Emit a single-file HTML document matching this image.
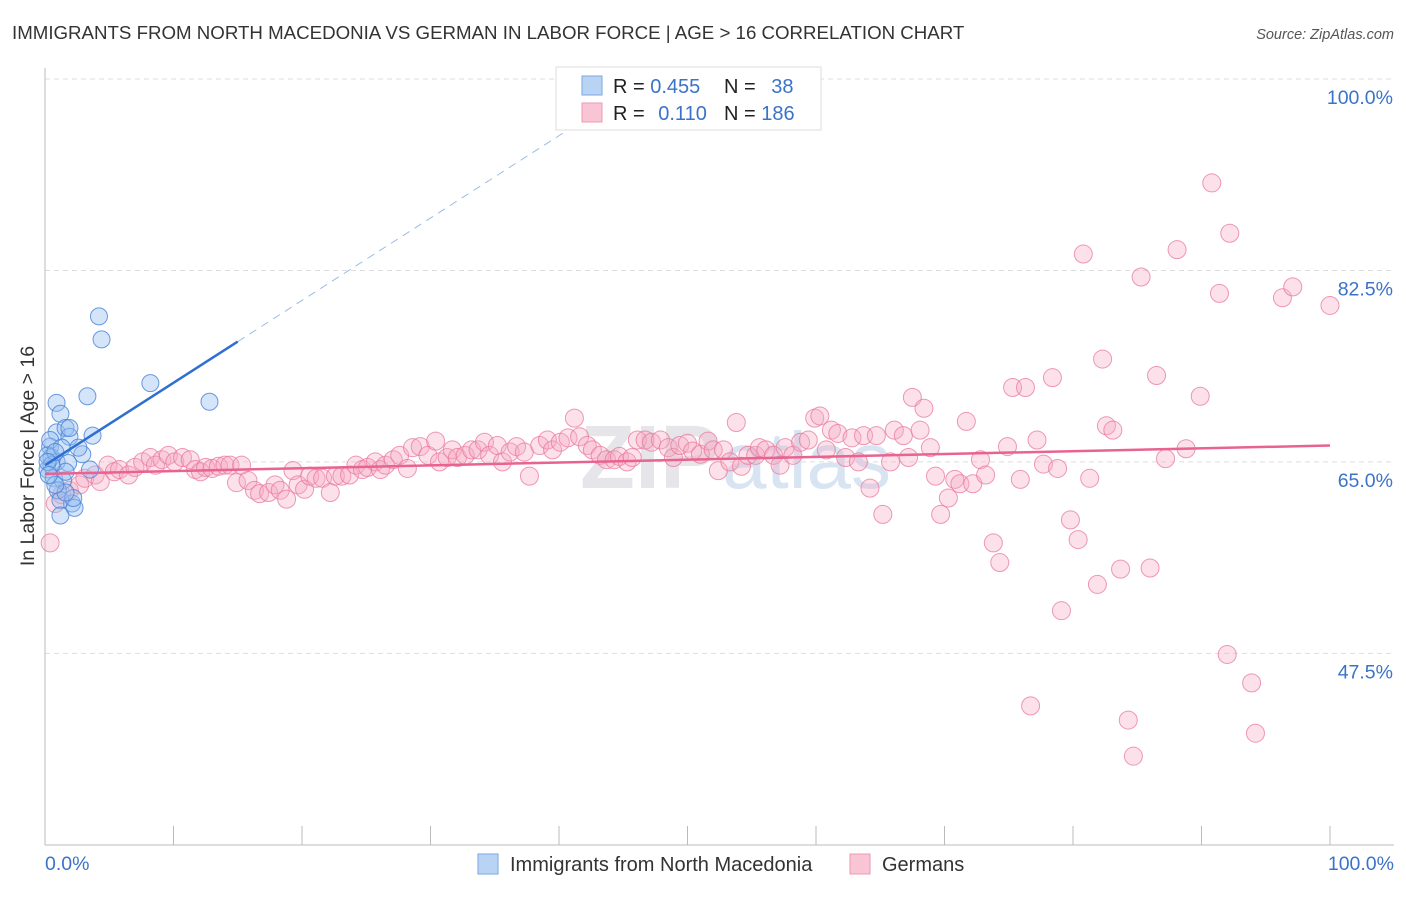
<!DOCTYPE html>
<html><head><meta charset="utf-8"><style>
body{margin:0;background:#fff;font-family:"Liberation Sans",sans-serif}
svg text{font-family:"Liberation Sans",sans-serif}
</style></head><body>
<svg id="c" width="1406" height="892" xmlns="http://www.w3.org/2000/svg">
<text x="12" y="39" font-size="18.7" fill="#333">IMMIGRANTS FROM NORTH MACEDONIA VS GERMAN IN LABOR FORCE | AGE &gt; 16 CORRELATION CHART</text>
<text x="1394" y="39" font-size="14.5" fill="#555" font-style="italic" text-anchor="end">Source: ZipAtlas.com</text>
<text x="720" y="488" font-size="90" font-weight="bold" fill="#e6e6ea" text-anchor="end">ZIP</text>
<text x="722" y="488" font-size="80" fill="#d8e4f2">atlas</text>
<g id="grid"></g><g id="axes"></g><g id="pink"></g><g id="blue"></g><g id="trend"></g>
<text transform="translate(34,456) rotate(-90)" font-size="19.5" fill="#333" text-anchor="middle">In Labor Force | Age &gt; 16</text>
<g>
<rect x="556" y="67" width="265" height="63" fill="#fff" stroke="#ddd"/>
<rect x="582" y="76" width="20" height="19" fill="#b9d3f5" stroke="#7aa7e0"/>
<rect x="582" y="103" width="20" height="19" fill="#f9c4d4" stroke="#ee9ab4"/>
<text x="613" y="93" font-size="20" fill="#222">R = <tspan fill="#3b73c9">0.455</tspan></text>
<text x="724" y="93" font-size="20" fill="#222">N = <tspan fill="#3b73c9" dx="10">38</tspan></text>
<text x="613" y="120" font-size="20" fill="#222">R = <tspan fill="#3b73c9" dx="8">0.110</tspan></text>
<text x="724" y="120" font-size="20" fill="#222">N = <tspan fill="#3b73c9">186</tspan></text>
</g>
<g>
<rect x="478" y="854" width="20" height="20" fill="#b9d3f5" stroke="#7aa7e0"/>
<text x="510" y="871" font-size="20" fill="#333">Immigrants from North Macedonia</text>
<rect x="850" y="854" width="20" height="20" fill="#f9c4d4" stroke="#ee9ab4"/>
<text x="882" y="871" font-size="20" fill="#333">Germans</text>
</g>
<text x="45" y="870" font-size="19.5" fill="#3b73c9">0.0%</text>
<text x="1394" y="870" font-size="19.5" fill="#3b73c9" text-anchor="end">100.0%</text>
</svg>
<script>
const yTicks=[100,82.5,65,47.5];
const yTickLabels=["100.0%","82.5%","65.0%","47.5%"];
const blueX=[4.2,4.4,8.2,12.8,3.3,0.9,1.2,3.7,2.9,0.9,1.6,1.9,0.4,0.5,0.2,0.9,1.8,0.7,1.4,3.5,1.0,2.1,1.2,2.3,1.2,0.4,0.2,1.9,1.3,1.6,0.5,0.8,2.2,1.6,0.2,0.8,2.6,0.3];
const blueY=[78.3,76.2,72.2,70.5,71.0,70.4,69.4,67.4,65.7,67.7,68.1,67.3,66.4,65.4,64.3,65.0,64.9,63.5,63.3,64.3,62.4,61.2,61.5,60.8,60.1,67.0,65.6,68.1,66.3,64.1,64.7,65.9,61.7,62.2,65.0,62.9,66.3,63.8];
const pinkX=[0.4,0.8,1.3,1.9,2.7,3.1,3.9,4.3,4.9,5.4,5.8,6.5,7.0,7.6,8.2,8.6,9.1,9.6,10.1,10.7,11.3,11.7,12.1,12.5,13.0,13.5,14.0,14.4,14.9,15.3,15.8,16.3,16.7,17.4,17.9,18.3,18.8,19.3,19.7,20.2,20.6,21.1,21.6,22.2,22.6,23.1,23.7,24.2,24.7,25.1,25.7,26.1,26.5,27.1,27.6,28.2,28.6,29.2,29.8,30.4,30.7,31.3,31.7,32.1,32.7,33.2,33.7,34.2,34.6,35.2,35.6,36.2,36.7,37.3,37.7,38.5,39.1,39.5,40.1,40.7,41.2,41.6,42.2,42.6,43.2,43.7,44.3,44.7,45.3,45.7,46.1,46.7,47.2,47.9,48.5,48.9,49.4,50.0,50.4,51.0,51.6,52.0,52.4,52.8,53.3,53.8,54.2,54.7,55.3,55.6,56.1,56.7,57.2,57.6,58.2,58.8,59.4,59.9,60.3,60.8,61.2,61.7,62.3,62.8,63.3,63.7,64.2,64.7,65.2,65.8,66.1,66.8,67.2,67.5,68.1,68.4,68.9,69.3,69.7,70.3,70.8,71.2,71.7,72.2,72.8,73.2,73.8,74.3,74.9,75.3,75.9,76.3,76.7,77.2,77.7,78.4,78.8,79.1,79.8,80.4,80.8,81.3,81.9,82.3,82.6,83.1,83.7,84.3,84.7,85.3,86.0,86.5,87.2,88.1,88.8,89.9,90.8,91.4,92.0,92.2,93.9,94.2,96.3,97.1,100];
const pinkY=[57.6,61.2,62.0,62.4,62.9,63.5,63.8,63.2,64.7,64.1,64.3,63.8,64.5,65.0,65.4,64.7,65.2,65.6,65.0,65.4,65.2,64.3,64.1,64.5,64.4,64.6,64.7,64.7,63.1,64.7,63.3,62.4,62.1,62.2,62.9,62.4,61.6,64.2,62.9,62.5,63.7,63.5,63.5,62.2,63.7,63.7,63.8,64.7,64.3,64.5,65.0,64.3,64.7,65.2,65.6,64.4,66.3,66.4,65.6,66.9,65.0,65.4,66.1,65.4,65.6,66.1,66.1,66.8,65.6,66.5,65.0,65.9,66.4,65.9,63.7,66.5,67.0,66.1,66.8,67.2,69.0,67.3,66.5,66.1,65.6,65.2,65.2,65.5,65.0,65.4,67.0,67.0,66.8,67.0,66.3,65.4,66.5,66.7,66.0,65.7,66.9,66.1,64.2,66.1,65.0,68.6,64.6,65.6,65.6,66.3,66.1,65.6,64.7,66.3,65.6,66.8,67.0,69.0,69.2,66.1,67.9,67.6,65.4,67.2,65.0,67.4,62.6,67.4,60.2,65.0,67.9,67.4,65.4,70.9,67.9,69.9,66.3,63.7,60.2,61.7,63.4,63.0,68.7,63.0,65.2,63.8,57.6,55.8,66.4,71.8,63.4,71.8,42.7,67.0,64.8,72.7,64.4,51.4,59.7,57.9,84.0,63.5,53.8,74.4,68.3,67.9,55.2,41.4,38.1,81.9,55.3,72.9,65.3,84.4,66.2,71.0,90.5,80.4,47.4,85.9,44.8,40.2,80.0,81.0,79.3];
const pinkTrend=[63.9,66.5];
const blueTrend=[64.7,0.753];
const NS="http://www.w3.org/2000/svg";
const X=v=>45+v*12.85, Y=v=>79+(100-v)*10.94;
function mk(t,a,p){const e=document.createElementNS(NS,t);for(const k in a)e.setAttribute(k,a[k]);p.appendChild(e);return e;}
const grid=document.getElementById('grid'),axes=document.getElementById('axes');
yTicks.forEach((t,i)=>{
 const l=mk('line',{x1:45,x2:1394,y1:Y(t),y2:Y(t),stroke:'#ddd','stroke-dasharray':'5,4'},grid);
 
 
 const tx=mk('text',{x:1393,y:Y(t)+25,'font-size':19.5,fill:'#3b73c9','text-anchor':'end'},grid);
 tx.textContent=yTickLabels[i];
 
 
});
const ya=mk('line',{x1:45,x2:45,y1:68,y2:845,stroke:'#bbb'},axes);


const xa=mk('line',{x1:45,x2:1394,y1:845,y2:845,stroke:'#bbb'},axes);


for(let i=0;i<=10;i++){const t=mk('line',{x1:X(i*10),x2:X(i*10),y1:826,y2:845,stroke:'#bbb'},axes);
 
 }
const pg=document.getElementById('pink');
pinkX.forEach((v,i)=>{const c=mk('circle',{cx:X(v),cy:Y(pinkY[i]),r:9,fill:'rgba(246,170,195,0.35)',stroke:'rgba(232,120,155,0.75)','stroke-width':1},pg);
 
 });
const bg=document.getElementById('blue');
blueX.forEach((v,i)=>{const c=mk('circle',{cx:X(v),cy:Y(blueY[i]),r:8.5,fill:'rgba(150,190,240,0.4)',stroke:'rgba(70,130,215,0.8)','stroke-width':1},bg);
 
 });
const tg=document.getElementById('trend');
const pt=mk('line',{x1:X(0),y1:Y(pinkTrend[0]),x2:X(100),y2:Y(pinkTrend[1]),stroke:'#e8638f','stroke-width':2.5},tg);


const bf=x=>blueTrend[0]+blueTrend[1]*x;
const bt=mk('line',{x1:X(0),y1:Y(bf(0)),x2:X(15),y2:Y(bf(15)),stroke:'#2f6fd3','stroke-width':2.5},tg);


const bd=mk('line',{x1:X(15),y1:Y(bf(15)),x2:X(42.5),y2:Y(bf(42.5)),stroke:'#9bbbe8','stroke-width':1,'stroke-dasharray':'8,6'},tg);


</script>
</body></html>
